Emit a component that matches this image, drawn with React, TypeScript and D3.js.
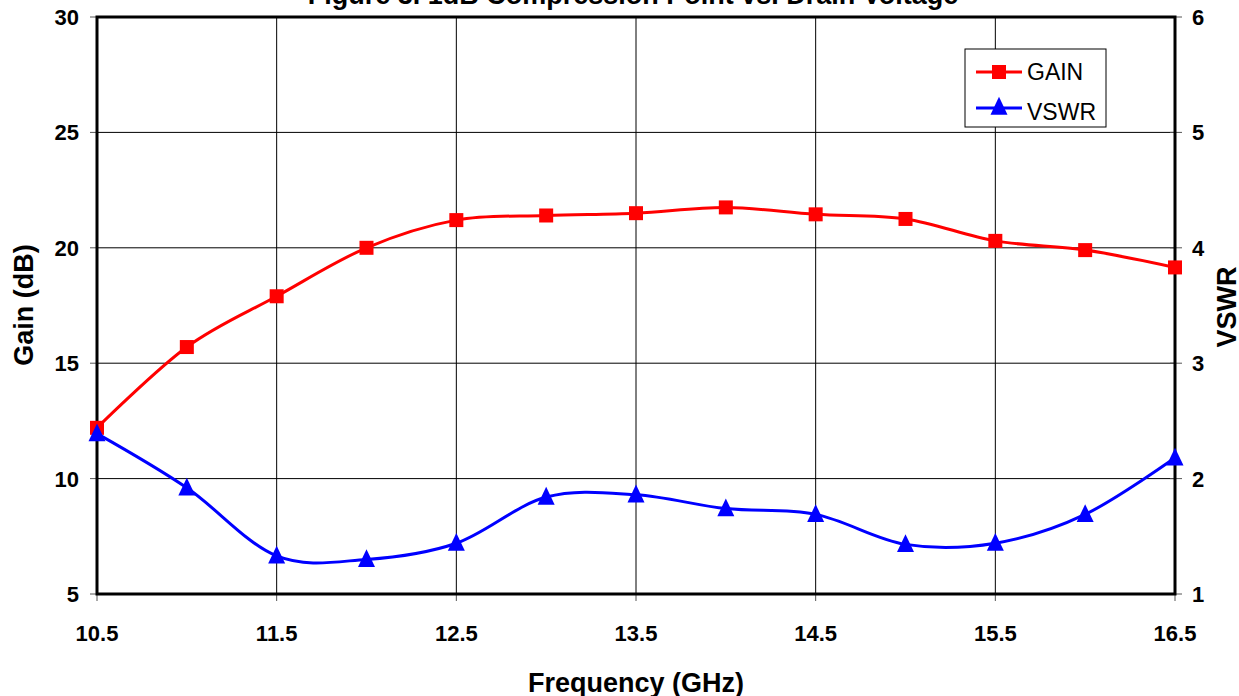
import React from "react";
import * as d3 from "d3";

// frequency points (GHz)
const freq = [10.5, 11, 11.5, 12, 12.5, 13, 13.5, 14, 14.5, 15, 15.5, 16, 16.5];
// gain (dB), left axis
const gain = [12.2, 15.7, 17.9, 20.0, 21.2, 21.4, 21.5, 21.75, 21.45, 21.25, 20.3, 19.9, 19.15];
// VSWR, right axis
const vswr = [2.39, 1.92, 1.33, 1.3, 1.44, 1.84, 1.86, 1.74, 1.69, 1.43, 1.44, 1.69, 2.18];

const xTicks = [10.5, 11.5, 12.5, 13.5, 14.5, 15.5, 16.5];
const gainTicks = [5, 10, 15, 20, 25, 30];
const vswrTicks = [1, 2, 3, 4, 5, 6];

const W = 1239;
const H = 696;
const margin = { top: 17, right: 64, bottom: 102, left: 97 };
const FONT = "'Liberation Sans', Arial, sans-serif";

export default function App() {
  const innerW = W - margin.left - margin.right;
  const innerH = H - margin.top - margin.bottom;

  const x = d3.scaleLinear().domain([10.5, 16.5]).range([0, innerW]);
  const yL = d3.scaleLinear().domain([5, 30]).range([innerH, 0]);
  const yR = d3.scaleLinear().domain([1, 6]).range([innerH, 0]);

  // excel-like smoothing
  const curve = d3.curveCardinal.tension(0);
  const gainLine = d3.line<number>().x((d, i) => x(freq[i])).y(d => yL(d)).curve(curve);
  const vswrLine = d3.line<number>().x((d, i) => x(freq[i])).y(d => yR(d)).curve(curve);

  const tri = (cx: number, cy: number, s: number) =>
    `M${cx},${cy - s * 0.6}L${cx + s / 2},${cy + s * 0.45}L${cx - s / 2},${cy + s * 0.45}Z`;

  return (
    <svg width={W} height={H} style={{ position: "absolute", left: 0, top: 0, background: "#fff" }}>
      <text x={633} y={4} textAnchor="middle" fontFamily={FONT} fontWeight="bold" fontSize={27}>
        Figure 3. 1dB Compression Point vs. Drain Voltage
      </text>
      <g transform={`translate(${margin.left},${margin.top})`}>
        {/* grid */}
        {gainTicks.map(t => (
          <line key={"h" + t} x1={0} x2={innerW} y1={yL(t)} y2={yL(t)} stroke="#000" strokeWidth={1} />
        ))}
        {xTicks.map(t => (
          <line key={"v" + t} x1={x(t)} x2={x(t)} y1={0} y2={innerH} stroke="#000" strokeWidth={1} />
        ))}
        {/* ticks */}
        {gainTicks.map(t => (
          <line key={"lt" + t} x1={-7} x2={0} y1={yL(t)} y2={yL(t)} stroke="#555" strokeWidth={1} />
        ))}
        {vswrTicks.map(t => (
          <line key={"rt" + t} x1={innerW - 5} x2={innerW + 7} y1={yR(t)} y2={yR(t)} stroke="#555" strokeWidth={1} />
        ))}
        {xTicks.map(t => (
          <line key={"bt" + t} x1={x(t)} x2={x(t)} y1={innerH} y2={innerH + 7} stroke="#555" strokeWidth={1} />
        ))}
        {/* frame */}
        <rect x={0} y={0} width={innerW} height={innerH} fill="none" stroke="#000" strokeWidth={3} />

        {/* tick labels */}
        {gainTicks.map(t => (
          <text key={"ll" + t} x={-18} y={yL(t)} dy="0.36em" textAnchor="end" fontFamily={FONT} fontWeight="bold" fontSize={22}>
            {t}
          </text>
        ))}
        {vswrTicks.map(t => (
          <text key={"rl" + t} x={innerW + 17} y={yR(t)} dy="0.36em" textAnchor="start" fontFamily={FONT} fontWeight="bold" fontSize={22}>
            {t}
          </text>
        ))}
        {xTicks.map(t => (
          <text key={"bl" + t} x={x(t)} y={innerH + 47} textAnchor="middle" fontFamily={FONT} fontWeight="bold" fontSize={22}>
            {t}
          </text>
        ))}

        {/* series */}
        <path d={gainLine(gain) || ""} fill="none" stroke="#ff0000" strokeWidth={3} />
        {gain.map((g, i) => (
          <rect key={"g" + i} x={x(freq[i]) - 7} y={yL(g) - 7} width={14} height={14} fill="#ff0000" />
        ))}
        <path d={vswrLine(vswr) || ""} fill="none" stroke="#0000ff" strokeWidth={3} />
        {vswr.map((v, i) => (
          <path key={"v" + i} d={tri(x(freq[i]), yR(v), 17)} fill="#0000ff" />
        ))}
      </g>

      {/* axis titles */}
      <text transform={`translate(33,305) rotate(-90)`} textAnchor="middle" fontFamily={FONT} fontWeight="bold" fontSize={27}>
        Gain (dB)
      </text>
      <text transform={`translate(1236,307) rotate(-90)`} textAnchor="middle" fontFamily={FONT} fontWeight="bold" fontSize={27}>
        VSWR
      </text>
      <text x={636} y={692} textAnchor="middle" fontFamily={FONT} fontWeight="bold" fontSize={27}>
        Frequency (GHz)
      </text>

      {/* legend */}
      <g>
        <rect x={965} y={49} width={141} height={78} fill="#fff" stroke="#000" strokeWidth={1} />
        <line x1={976} x2={1022} y1={72} y2={72} stroke="#ff0000" strokeWidth={3} />
        <rect x={992} y={65} width={14} height={14} fill="#ff0000" />
        <text x={1027} y={80} fontFamily={FONT} fontSize={23}>GAIN</text>
        <line x1={976} x2={1022} y1={108} y2={108} stroke="#0000ff" strokeWidth={3} />
        <path d={tri(999, 107, 17)} fill="#0000ff" />
        <text x={1027} y={120} fontFamily={FONT} fontSize={23}>VSWR</text>
      </g>
    </svg>
  );
}
